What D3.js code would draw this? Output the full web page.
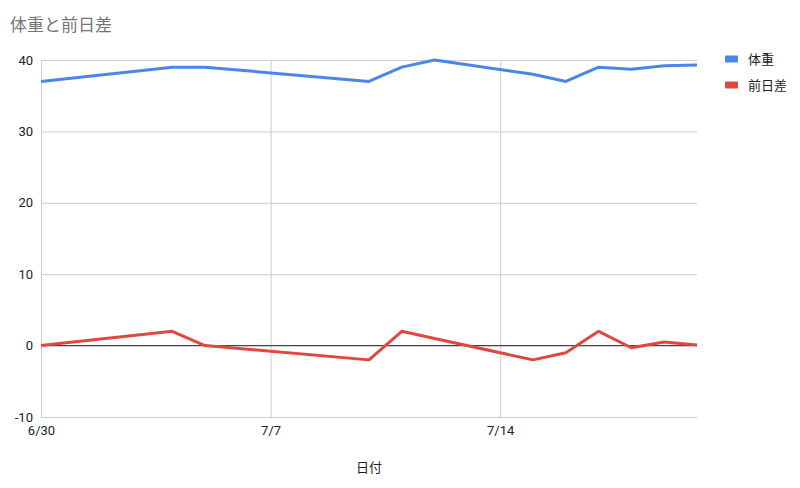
<!DOCTYPE html>
<html>
  <head>
    <meta charset="utf-8">
    <title>体重と前日差</title>
    <script src="https://cdn.jsdelivr.net/npm/d3@7"></script>
    <style type="text/css">
    body { margin: 0; background: #fff; }
    text { font-family: Roboto, "Noto Sans CJK JP", sans-serif; }
    </style>
  </head>
  <body>
  <script type="text/javascript">

    // data
    var dates  = ["2024-06-30","2024-07-04","2024-07-05","2024-07-10","2024-07-11","2024-07-12",
                  "2024-07-15","2024-07-16","2024-07-17","2024-07-18","2024-07-19","2024-07-20"];
    var weight = [37, 39, 39, 37, 39, 40, 38, 37, 39, 38.7, 39.2, 39.3];
    var diff   = [0, 2, 0, -2, 2, 1, -2, -1, 2, -0.3, 0.5, 0.1];
    var yTicks = [-10, 0, 10, 20, 30, 40];
    var xTicks = ["2024-06-30", "2024-07-07", "2024-07-14"];
    var seriesNames = ["体重", "前日差"];
    var colors = ["#4a86e8", "#e0483e"];

    var parse = d3.timeParse("%Y-%m-%d");
    var fmt = d3.timeFormat("%-m/%-d");

    var W = 800, H = 488;
    var m = {top: 60, right: 103, bottom: 71, left: 41};

    var svg = d3.select("body").append("svg")
      .attr("width", W).attr("height", H);

    var x = d3.scaleTime()
      .domain([parse(dates[0]), parse(dates[dates.length - 1])])
      .range([m.left, W - m.right]);

    var y = d3.scaleLinear()
      .domain([-10, 40])
      .range([H - m.bottom, m.top]);

    // title
    svg.append("text")
      .attr("x", 10).attr("y", 31)
      .attr("fill", "#757575")
      .style("font-size", "17px")
      .text("体重と前日差");

    // horizontal grid + y labels
    var yAxis = d3.axisLeft(y).tickValues(yTicks)
      .tickFormat(function(d) { return String(d); })
      .tickSize(-(W - m.right - m.left)).tickPadding(8);
    var gy = svg.append("g")
      .attr("transform", "translate(" + m.left + ",0)")
      .call(yAxis);
    gy.select(".domain").remove();
    gy.selectAll("line").attr("stroke", "#cccccc");
    gy.selectAll("text").attr("fill", "#222").style("font-size", "13px");

    // vertical grid + x labels
    var xAxis = d3.axisBottom(x).tickValues(xTicks.map(parse)).tickFormat(fmt)
      .tickSizeInner(-(H - m.bottom - m.top)).tickSizeOuter(0).tickPadding(9);
    var gx = svg.append("g")
      .attr("transform", "translate(0," + (H - m.bottom) + ")")
      .call(xAxis);
    gx.select(".domain").attr("stroke", "#cccccc");
    gx.selectAll("line").attr("stroke", "#cccccc");
    gx.selectAll("text").attr("fill", "#222").style("font-size", "13px");

    // zero baseline
    svg.append("line")
      .attr("x1", m.left).attr("x2", W - m.right)
      .attr("y1", y(0)).attr("y2", y(0))
      .attr("stroke", "#333").attr("stroke-width", 1);

    // x axis title
    svg.append("text")
      .attr("x", (m.left + W - m.right) / 2).attr("y", 472)
      .attr("text-anchor", "middle")
      .attr("fill", "#222")
      .style("font-size", "13px")
      .text("日付");

    var line = d3.line()
      .x(function(d) { return x(d.date); })
      .y(function(d) { return y(d.v); });

    [weight, diff].forEach(function(vals, i) {
      var pts = vals.map(function(v, j) { return {date: parse(dates[j]), v: v}; });
      svg.append("path")
        .datum(pts)
        .attr("d", line)
        .attr("fill", "none")
        .attr("stroke", colors[i])
        .attr("stroke-width", 3)
        .attr("stroke-linejoin", "round");
    });

    // legend
    var lg = svg.append("g").attr("transform", "translate(725,59)");
    seriesNames.forEach(function(name, i) {
      lg.append("rect")
        .attr("x", 0).attr("y", i * 26 - 3.5)
        .attr("width", 13).attr("height", 7)
        .attr("rx", 1)
        .attr("fill", colors[i]);
      lg.append("text")
        .attr("x", 23).attr("y", i * 26 + 4.5)
        .attr("fill", "#222")
        .style("font-size", "13px")
        .text(name);
    });

  </script>
  </body>
</html>
